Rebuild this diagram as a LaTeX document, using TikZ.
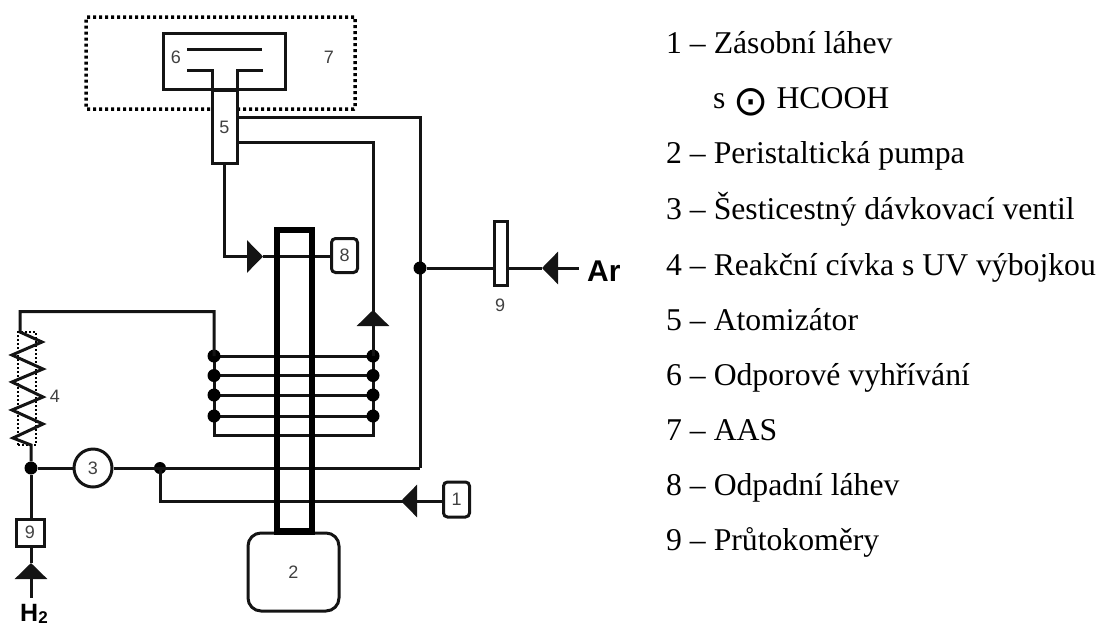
\documentclass[tikz,border=0pt]{standalone}
\usepackage{fontspec}
\setmainfont{Liberation Serif}
\setsansfont{Liberation Sans}
\usetikzlibrary{arrows.meta,calc}
\tikzset{
  wire/.style={line width=3pt,line join=miter,black!92},
  thickwire/.style={line width=6.5pt,line join=miter,black},
  flow/.style={wire,-{Triangle[length=16pt,width=32pt,sep=0pt]}},
  dotfence/.style={draw,line width=3.5pt,dash pattern=on 3pt off 3pt},
  finedot/.style={draw,line width=2pt,dash pattern=on 2pt off 2pt},
  tag/.style={font=\sffamily\fontsize{18}{18}\selectfont,text=black!75,inner sep=0pt},
  gas/.style={font=\sffamily\bfseries\fontsize{30}{30}\selectfont,inner sep=0pt},
  part/.style={draw,wire,fill=white,inner sep=0pt,font=\sffamily\fontsize{18}{18}\selectfont,text=black!75},
  joint/.style={circle,fill=black,inner sep=0pt,minimum size=#1},
  joint/.default=13pt,
  legend/.style={anchor=base west,inner sep=0pt,font=\fontsize{31.7}{32}\selectfont},
}
\begin{document}
\begin{tikzpicture}[x=1pt,y=-1pt]
\useasboundingbox (0,0) rectangle (1102,625);

% AAS and atomizer
\node[dotfence,minimum width=269pt,minimum height=92pt,inner sep=0pt,rounded corners=1pt] (aas) at (220.5,63) {};
\node[tag] (t7) at (329,57) {7};
\node[wire,draw,minimum width=122pt,minimum height=56pt,inner sep=0pt] (heat) at (224,61) {};
\node[tag] (t6) at (176,57) {6};
\node[part,minimum width=25pt,minimum height=73pt,anchor=north] (atom) at (224.5,89) {5};
\coordinate (atomL) at (212,70);
\coordinate (atomR) at (237,70);
\coordinate (lipL) at (187,70);
\coordinate (lipR) at (263,70);
\coordinate (barL) at (187,49.5);
\coordinate (barR) at (262,49.5);
\draw[wire] (barL) -- (barR);
\draw[wire] (lipL) -- (atomL) -- (atomL |- atom.north);
\draw[wire] (lipR) -- (atomR) -- (atomR |- atom.north);

% Pump and thick tube
\node[part,minimum width=91pt,minimum height=78pt,rounded corners=13pt] (pump) at (293.5,572) {2};
\coordinate (tubeTL) at (277,230);
\coordinate (tubeTR) at (312,230);

% Right side coordinates
\coordinate (cornerA) at (420,117);
\coordinate (gasJ) at (420,268);
\coordinate (cornerB) at (420,468);
\coordinate (cornerC) at (373,142);
\coordinate (tipUp) at (373,310);
\coordinate (baseUp) at (373,327);

% Coil
\coordinate (coilTL) at (214,356);
\coordinate (coilBL) at (214,435);
\coordinate (coilBR) at (373,435);
\coordinate (coilTR) at (373,356);
\foreach \y/\n in {356/a,375.5/b,395/c,416/d}{
  \coordinate (l\n) at (214,\y);
  \coordinate (r\n) at (373,\y);
  \draw[wire] (l\n) -- (r\n);
}
\draw[wire] (coilTL) -- (coilBL) -- (coilBR) -- (coilTR);
\foreach \n in {a,b,c,d}{
  \node[joint] (jl\n) at (l\n) {};
  \node[joint] (jr\n) at (r\n) {};
}

% Waste line
\node[part,minimum width=26pt,minimum height=34pt,rounded corners=4pt] (waste) at (344.5,255.5) {8};
\coordinate (wasteIn) at (224.5,256.5);
\coordinate (wasteBase) at (246,256.5);
\coordinate (wasteTip) at (263,256.5);
\draw[wire] (atom.south) -- (wasteIn) -- (wasteBase);
\draw[flow] (wasteBase) -- (wasteTip);
\draw[wire] (wasteTip) -- (waste.west |- wasteTip);

% Atomizer return lines
\draw[wire] (atom.east |- cornerA) -- (cornerA) -- (cornerB);
\draw[wire] (coilTR) -- (tipUp);
\draw[wire] (atom.east |- cornerC) -- (cornerC) -- (tipUp);
\draw[flow] (baseUp) -- (tipUp);

% Valve and feed
\node[part,circle,minimum size=38pt] (valve) at (93,468) {3};
\node[joint] (jV) at (31,468) {};
\node[joint=12pt] (jF) at (160,468) {};
\draw[wire] (jV) -- (valve);
\draw[wire] (valve.east) -- (cornerB);
\node[part,minimum width=26pt,minimum height=35pt,rounded corners=4pt] (supply) at (456.5,499.5) {1};
\coordinate (feedCorner) at (160,501);
\coordinate (feedTail) at (417,501);
\coordinate (feedTip) at (401,501);
\draw[wire] (jF.center) -- (feedCorner) -- (supply.west |- feedCorner);
\draw[flow] (feedTail) -- (feedTip);

% thick tube above the crossing wires
\draw[thickwire] (tubeTL) rectangle (pump.north -| tubeTR);

% Reaction coil with UV lamp
\node[finedot,minimum width=18pt,minimum height=113pt,inner sep=0pt] (uv) at (27,388.5) {};
\coordinate (zz0) at (20,332);
\coordinate (wireTop) at (20,311.5);
\coordinate (zzEnd) at (31,445);
\draw[wire] (coilTL) -- (214,311.5) -- (wireTop) -- (zz0)
  -- (42,342) -- (12,355) -- (43,369) -- (12,382) -- (43,397) -- (12,410) -- (43,424) -- (13,438) -- (zzEnd) -- (jV);
\node[tag] (t4) at (55,396) {4};

% H2 inlet
\node[part,minimum width=28pt,minimum height=27pt] (meterH) at (30,532.5) {9};
\coordinate (h2Tail) at (31,598);
\coordinate (h2Base) at (31,578);
\coordinate (h2Tip) at (31,563);
\draw[wire] (jV) -- (meterH.north -| jV);
\draw[wire] (meterH.south -| jV) -- (h2Tip);
\draw[wire] (h2Base) -- (h2Tail);
\draw[flow] (h2Base) -- (h2Tip);
\node[gas,anchor=base west,font=\sffamily\bfseries\fontsize{25}{25}\selectfont] (h2) at (20,621) {H\raisebox{-2pt}{\fontsize{17}{17}\selectfont 2}};

% Ar inlet
\node[joint] (jG) at (gasJ) {};
\node[part,minimum width=13pt,minimum height=64pt] (meterAr) at (500.5,253) {};
\node[tag] (t9) at (500,305) {9};
\coordinate (arTail) at (579,268);
\coordinate (arBase) at (558,268);
\coordinate (arTip) at (542,268);
\draw[wire] (jG) -- (meterAr.west |- jG);
\draw[wire] (meterAr.east |- arTip) -- (arTip);
\draw[wire] (arBase) -- (arTail);
\draw[flow] (arBase) -- (arTip);
\node[gas,anchor=base west] (ar) at (587,281) {Ar};

% Legend
\node[legend] (l1) at (666,53) {1 – Zásobní láhev};
\node[legend] (l1b) at (713,108) {s \raisebox{-7pt}{\fontspec{DejaVu Sans}\fontsize{42}{42}\selectfont ⊙} HCOOH};
\node[legend] (l2) at (666,163.5) {2 – Peristaltická pumpa};
\node[legend] (l3) at (666,219) {3 – Šesticestný dávkovací ventil};
\node[legend] (l4) at (666,275) {4 – Reakční cívka s UV výbojkou};
\node[legend] (l5) at (666,330) {5 – Atomizátor};
\node[legend] (l6) at (666,385) {6 – Odporové vyhřívání};
\node[legend] (l7) at (666,440) {7 – AAS};
\node[legend] (l8) at (666,495) {8 – Odpadní láhev};
\node[legend] (l9) at (666,550.5) {9 – Průtokoměry};
\end{tikzpicture}
\end{document}
